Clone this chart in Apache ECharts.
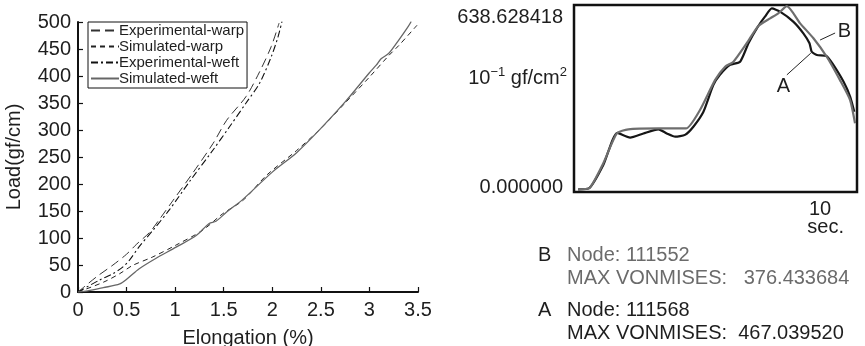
<!DOCTYPE html>
<html>
<head>
<meta charset="utf-8">
<script src="https://cdn.jsdelivr.net/npm/echarts@6/dist/echarts.min.js"></script>
<style>
  html, body { margin: 0; padding: 0; background: #fff; }
  #chart { width: 865px; height: 346px; }
</style>
</head>
<body>
<div id="chart"></div>
<script>
// left panel: load vs elongation, [elongation %, load gf/cm]
const expWarp = [[0, 0], [0.19, 28], [0.36, 50], [0.5, 70], [0.6, 88], [0.74, 111], [0.84, 135], [0.98, 170],
  [1.18, 220], [1.39, 275], [1.53, 318], [1.73, 362], [1.87, 408], [1.99, 455], [2.07, 498]];
const simWarp = [[0, 0], [0.26, 18], [0.43, 34], [0.56, 49], [0.77, 65], [1.01, 87], [1.28, 114], [1.49, 145],
  [1.7, 170], [1.94, 216], [2.25, 262], [2.5, 303], [2.75, 350], [3.0, 398], [3.2, 438], [3.3, 456], [3.49, 494]];
const expWeft = [[0, 0], [0.22, 22], [0.36, 34], [0.46, 46], [0.53, 59], [0.63, 84], [0.77, 114], [0.94, 152],
  [1.15, 205], [1.39, 263], [1.56, 306], [1.73, 350], [1.87, 387], [1.99, 436], [2.06, 473], [2.1, 501]];
const simWeft = [[0, 0], [0.1, 2], [0.26, 8], [0.43, 15], [0.51, 25], [0.63, 43], [0.8, 62], [1.01, 83],
  [1.22, 105], [1.35, 127], [1.42, 131], [1.53, 148], [1.7, 172], [2.0, 222], [2.25, 258], [2.5, 303],
  [2.75, 352], [3.0, 406], [3.07, 420], [3.12, 432], [3.2, 442], [3.3, 466], [3.4, 492], [3.43, 501]];
const leftNames = ['Experimental-warp', 'Simulated-warp', 'Experimental-weft', 'Simulated-weft'];

// right panel: von Mises stress history, [sec, 10^-1 gf/cm2]
const nodeA = [[0.17, 9], [0.62, 13], [1.19, 92], [1.76, 202], [2.28, 186], [2.82, 200], [3.43, 214], [3.77, 200],
  [4.11, 189], [4.51, 195], [4.85, 223], [5.26, 274], [5.66, 365], [5.93, 400], [6.34, 434], [6.75, 445],
  [7.09, 508], [7.49, 567], [7.76, 599], [8.04, 627], [8.37, 616], [8.91, 582], [9.32, 542], [9.57, 508],
  [9.66, 479], [9.87, 468], [10.27, 464], [10.54, 434], [10.95, 377], [11.22, 326], [11.39, 274]];
const nodeB = [[0.17, 9], [0.62, 13], [1.19, 98], [1.74, 200], [2.21, 214], [3.43, 217], [4.55, 217], [5.12, 280],
  [5.73, 382], [6.14, 428], [6.48, 445], [7.02, 508], [7.49, 567], [7.97, 593], [8.3, 610], [8.65, 635],
  [9.19, 576], [9.73, 525], [10.27, 462], [10.81, 382], [11.22, 314], [11.42, 235]];
const stressMax = 638.628418;
const stressTicks = ['638.628418', '0.000000'];
const nodeInfo = [
  { tag: 'B', node: 'Node: 111552', max: 'MAX VONMISES:   376.433684' },
  { tag: 'A', node: 'Node: 111568', max: 'MAX VONMISES:  467.039520' }
];

const font = 'Liberation Sans, Arial, Helvetica, sans-serif';
const ink = '#1e1e1e';

const myChart = echarts.init(document.getElementById('chart'));

const option = {
  animation: false,
  textStyle: { fontFamily: font, color: ink },
  legend: {
    data: leftNames,
    orient: 'vertical',
    left: 88,
    top: 22,
    padding: [1, 3, 2, 2],
    itemGap: 1,
    itemWidth: 28,
    itemHeight: 14,
    backgroundColor: '#fff',
    borderColor: '#111',
    borderWidth: 1,
    borderRadius: 0,
    itemStyle: { opacity: 0 },
    textStyle: { fontSize: 15, color: ink, padding: [0, 0, 0, -5], fontFamily: font }
  },
  grid: [
    { left: 78, top: 22, width: 340, height: 270, outerBoundsMode: 'none' },
    { left: 574, top: 5, width: 283, height: 187, outerBoundsMode: 'none', show: true, borderColor: '#111', borderWidth: 2.5 }
  ],
  xAxis: [
    {
      gridIndex: 0,
      type: 'value',
      min: 0,
      max: 3.5,
      interval: 0.5,
      name: 'Elongation (%)',
      nameLocation: 'middle',
      nameGap: 36,
      nameTextStyle: { fontSize: 20, color: ink },
      axisLine: { onZero: false, lineStyle: { color: '#111', width: 2 } },
      axisTick: { inside: true, length: 5, lineStyle: { color: '#111', width: 1.2 } },
      axisLabel: { fontSize: 20, color: ink, margin: 8 },
      splitLine: { show: false }
    },
    {
      gridIndex: 1,
      type: 'value',
      min: 0,
      max: 11.5,
      interval: 10,
      axisLine: { show: false },
      axisTick: { show: false },
      axisLabel: {
        fontSize: 20,
        color: ink,
        margin: 8,
        lineHeight: 18,
        showMaxLabel: false,
        formatter: v => (v === 10 ? '10\n  sec.' : '')
      },
      splitLine: { show: false }
    }
  ],
  yAxis: [
    {
      gridIndex: 0,
      type: 'value',
      min: 0,
      max: 500,
      interval: 50,
      name: 'Load(gf/cm)',
      nameLocation: 'middle',
      nameGap: 54,
      nameTextStyle: { fontSize: 20, color: ink },
      axisLine: { show: true, lineStyle: { color: '#111', width: 2 } },
      axisTick: { show: true, inside: true, length: 5, lineStyle: { color: '#111', width: 1.2 } },
      axisLabel: { fontSize: 20, color: ink, margin: 7 },
      splitLine: { show: false }
    },
    {
      gridIndex: 1,
      type: 'value',
      min: 0,
      max: stressMax,
      axisLine: { show: false },
      axisTick: { show: false },
      axisLabel: { show: false },
      splitLine: { show: false }
    }
  ],
  graphic: [
    { type: 'text', right: 865 - 563, top: 7, style: { text: stressTicks[0], font: '20px ' + font, fill: ink } },
    { type: 'text', right: 865 - 563, top: 177, style: { text: stressTicks[1], font: '20px ' + font, fill: ink } },
    {
      type: 'text',
      right: 865 - 567,
      top: 64,
      style: {
        text: '{b|10}{s|−1}{b| gf/cm}{s|2}',
        rich: {
          b: { fontSize: 20, fontFamily: font, fill: ink, lineHeight: 24, verticalAlign: 'bottom' },
          s: { fontSize: 13, fontFamily: font, fill: ink, lineHeight: 24, verticalAlign: 'top', padding: [2, 0, 0, 0] }
        }
      }
    }
  ].concat(nodeInfo.flatMap((d, i) => {
    const top = 245 + i * 55;
    return [
      { type: 'text', left: 538, top: top, style: { text: d.tag, font: '20px ' + font, fill: ink } },
      { type: 'text', left: 567, top: top, style: { text: d.node, font: '20px ' + font, fill: d.tag === 'B' ? '#6b6b6b' : ink } },
      { type: 'text', left: 567, top: top + 23, style: { text: d.max, font: '20px ' + font, fill: d.tag === 'B' ? '#6b6b6b' : ink } }
    ];
  })),
  series: [
    {
      name: leftNames[0], type: 'line', xAxisIndex: 0, yAxisIndex: 0, data: expWarp,
      symbol: 'none', smooth: 0.3,
      lineStyle: { color: '#333', width: 1, type: [9, 5] }, itemStyle: { color: '#333' }
    },
    {
      name: leftNames[1], type: 'line', xAxisIndex: 0, yAxisIndex: 0, data: simWarp,
      symbol: 'none', smooth: 0.3,
      lineStyle: { color: '#222', width: 1, type: [5, 4] }, itemStyle: { color: '#222' }
    },
    {
      name: leftNames[2], type: 'line', xAxisIndex: 0, yAxisIndex: 0, data: expWeft,
      symbol: 'none', smooth: 0.3,
      lineStyle: { color: '#111', width: 1.1, type: [7, 3, 2, 3] }, itemStyle: { color: '#111' }
    },
    {
      name: leftNames[3], type: 'line', xAxisIndex: 0, yAxisIndex: 0, data: simWeft,
      symbol: 'none', smooth: 0.3,
      lineStyle: { color: '#666', width: 1.3 }, itemStyle: { color: '#666' }
    },
    {
      name: 'A', type: 'line', xAxisIndex: 1, yAxisIndex: 1, data: nodeA,
      symbol: 'none', smooth: 0.2,
      lineStyle: { color: '#161616', width: 2.2 },
      markLine: {
        silent: true, symbol: 'none', animation: false,
        lineStyle: { color: '#222', width: 1, type: 'solid' },
        label: { show: true, position: 'end', formatter: 'A', fontSize: 20, color: ink, fontFamily: font, distance: 2, offset: [-2, 10] },
        data: [[{ coord: [9.62, 474] }, { coord: [8.65, 400] }]]
      }
    },
    {
      name: 'B', type: 'line', xAxisIndex: 1, yAxisIndex: 1, data: nodeB,
      symbol: 'none', smooth: 0.2,
      lineStyle: { color: '#6e6e6e', width: 2.2 },
      markLine: {
        silent: true, symbol: 'none', animation: false,
        lineStyle: { color: '#222', width: 1, type: 'solid' },
        label: { show: true, position: 'end', formatter: 'B', fontSize: 20, color: ink, fontFamily: font, distance: 3 },
        data: [[{ coord: [10.0, 519] }, { coord: [10.61, 543] }]]
      }
    }
  ]
};

myChart.setOption(option);
</script>
</body>
</html>
